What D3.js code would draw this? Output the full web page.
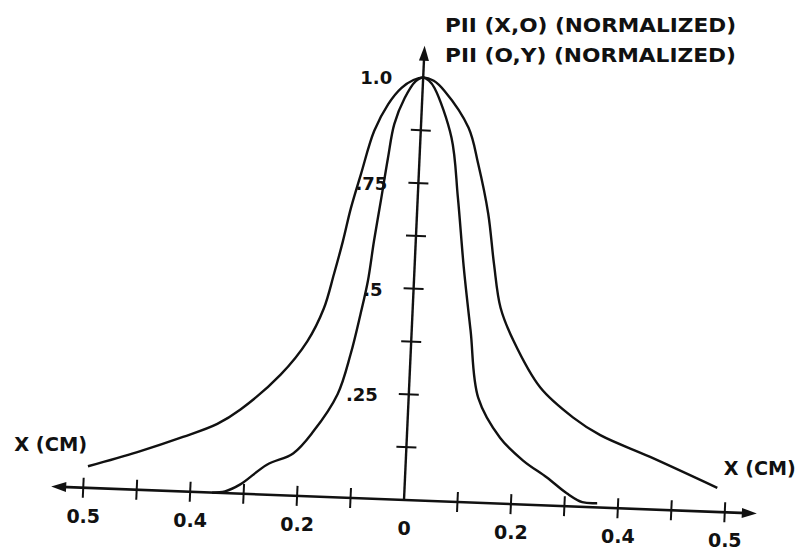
<!DOCTYPE html>
<html>
<head>
<meta charset="utf-8">
<script src="https://d3js.org/d3.v7.min.js"></script>
<style>
body { margin: 0; background: #fff; }
text { font-family: "DejaVu Sans", sans-serif; font-weight: bold; fill: #111; }
</style>
</head>
<body>
<script>
// wide profile (x in cm, y normalized)
var outerX = [-0.593, -0.502, -0.418, -0.355, -0.313, -0.241, -0.194, -0.166, -0.150, -0.136, -0.124, -0.108, -0.087, -0.063, -0.040, -0.018, 0.0, 0.020, 0.041, 0.089, 0.110, 0.133, 0.148, 0.164, 0.191, 0.245, 0.309, 0.361, 0.456, 0.584];
var outerY = [0.051, 0.089, 0.129, 0.163, 0.199, 0.285, 0.366, 0.445, 0.527, 0.606, 0.684, 0.766, 0.869, 0.934, 0.973, 0.993, 1.0, 0.993, 0.970, 0.885, 0.801, 0.684, 0.566, 0.463, 0.386, 0.278, 0.210, 0.171, 0.124, 0.057];

// narrow profile
var innerX = [-0.359, -0.335, -0.307, -0.259, -0.211, -0.175, -0.133, -0.112, -0.097, -0.086, -0.078, -0.068, -0.059, -0.050, -0.033, -0.014, 0.0, 0.011, 0.022, 0.058, 0.075, 0.092, 0.110, 0.130, 0.174, 0.219, 0.265, 0.304, 0.333, 0.361];
var innerY = [0.0, 0.004, 0.022, 0.071, 0.100, 0.154, 0.244, 0.340, 0.435, 0.514, 0.609, 0.711, 0.806, 0.887, 0.949, 0.990, 1.0, 0.993, 0.976, 0.860, 0.719, 0.554, 0.406, 0.248, 0.156, 0.104, 0.066, 0.030, 0.011, 0.010];

var xTicks = [-0.6, -0.5, -0.4, -0.3, -0.2, -0.1, 0.1, 0.2, 0.3, 0.4, 0.5, 0.6];
var xLabelVals = [-0.6, -0.4, -0.2, 0, 0.2, 0.4, 0.6];
var xLabels = ["0.5", "0.4", "0.2", "0", "0.2", "0.4", "0.5"];

var yTicks = [0.125, 0.25, 0.375, 0.5, 0.625, 0.75, 0.875];
var yLabelVals = [1.0, 0.75, 0.5, 0.25];
var yLabels = ["1.0", ".75", ".5", ".25"];

var titleLines = ["PII (X,O) (NORMALIZED)", "PII (O,Y) (NORMALIZED)"];
var axisName = "X (CM)";

var width = 799,
    height = 552;

var ox = 404, oy = 500;
// the drawing sits a little crooked: x axis tilts 2.2 deg, y axis 2.6 deg
var ax = 2.2 * Math.PI / 180,
    ay = 2.6 * Math.PI / 180;
var m = [Math.cos(ax), Math.sin(ax), -Math.sin(ay), Math.cos(ay), ox, oy];

function toScreen(u, v) {
	return [m[0] * u + m[2] * v + m[4], m[1] * u + m[3] * v + m[5]];
}

var x = d3.scaleLinear().domain([-0.6, 0.6]).range([-321, 321]);
var y = d3.scaleLinear().domain([0, 1]).range([0, -423]);

var xEnd = 0.66, yEnd = 1.075;

var svg = d3.select("body").append("svg")
    .attr("width", width)
    .attr("height", height);

svg.append("rect")
    .attr("width", width)
    .attr("height", height)
    .attr("fill", "#fff");

var g = svg.append("g")
    .attr("transform", "matrix(" + m.join(",") + ")");

// axes
g.append("line")
    .attr("x1", x(-xEnd) + 10).attr("y1", 0)
    .attr("x2", x(xEnd) - 10).attr("y2", 0)
    .attr("stroke", "#111")
    .attr("stroke-width", 2.6);

g.append("line")
    .attr("x1", 0).attr("y1", y(0))
    .attr("x2", 0).attr("y2", y(yEnd) + 10)
    .attr("stroke", "#111")
    .attr("stroke-width", 2.4);

// arrow heads
var arrows = [
	[[x(xEnd), 0], [x(xEnd) - 15, -5], [x(xEnd) - 15, 5]],
	[[x(-xEnd), 0], [x(-xEnd) + 15, -5], [x(-xEnd) + 15, 5]],
	[[0, y(yEnd)], [-5, y(yEnd) + 15], [5, y(yEnd) + 15]]
];
g.selectAll("path.arrow")
    .data(arrows).enter()
    .append("path")
    .attr("class", "arrow")
    .attr("d", function(d){ return "M" + d.join("L") + "Z"; })
    .attr("fill", "#111");

// ticks
g.selectAll("line.xtick")
    .data(xTicks).enter()
    .append("line")
    .attr("class", "xtick")
    .attr("x1", function(d){ return x(d); })
    .attr("x2", function(d){ return x(d); })
    .attr("y1", -10)
    .attr("y2", 10)
    .attr("stroke", "#111")
    .attr("stroke-width", 2);

g.selectAll("line.ytick")
    .data(yTicks).enter()
    .append("line")
    .attr("class", "ytick")
    .attr("x1", -10)
    .attr("x2", 10)
    .attr("y1", function(d){ return y(d); })
    .attr("y2", function(d){ return y(d); })
    .attr("stroke", "#111")
    .attr("stroke-width", 2);

// profiles
var line = d3.line()
    .x(function(d){ return x(d[0]); })
    .y(function(d){ return y(d[1]); })
    .curve(d3.curveCatmullRom.alpha(0.5));

var curves = [d3.zip(outerX, outerY), d3.zip(innerX, innerY)];

g.selectAll("path.profile")
    .data(curves).enter()
    .append("path")
    .attr("class", "profile")
    .attr("d", line)
    .attr("fill", "none")
    .attr("stroke", "#111")
    .attr("stroke-width", 2.4)
    .attr("stroke-linejoin", "round");

// labels kept upright, placed from the skewed frame
svg.selectAll("text.xlabel")
    .data(xLabelVals).enter()
    .append("text")
    .attr("class", "xlabel")
    .attr("x", function(d){ return toScreen(x(d), 0)[0]; })
    .attr("y", function(d){ return toScreen(x(d), 0)[1] + 35; })
    .attr("text-anchor", "middle")
    .attr("font-size", 19)
    .text(function(d, i){ return xLabels[i]; });

svg.selectAll("text.ylabel")
    .data(yLabelVals).enter()
    .append("text")
    .attr("class", "ylabel")
    .attr("x", function(d){ return toScreen(0, y(d))[0] - 31; })
    .attr("y", function(d){ return toScreen(0, y(d))[1] + 7; })
    .attr("text-anchor", "end")
    .attr("font-size", 18)
    .text(function(d, i){ return yLabels[i]; });

svg.selectAll("text.title")
    .data(titleLines).enter()
    .append("text")
    .attr("class", "title")
    .attr("x", 445)
    .attr("y", function(d, i){ return 32 + i * 30; })
    .attr("font-size", 19)
    .attr("textLength", 291)
    .attr("lengthAdjust", "spacingAndGlyphs")
    .text(function(d){ return d; });

var nameLeft = toScreen(x(-xEnd), 0),
    nameRight = toScreen(x(xEnd), 0);

svg.append("text")
    .attr("x", nameLeft[0] - 37)
    .attr("y", nameLeft[1] - 35)
    .attr("font-size", 19)
    .attr("textLength", 73)
    .attr("lengthAdjust", "spacingAndGlyphs")
    .text(axisName);

svg.append("text")
    .attr("x", nameRight[0] - 33)
    .attr("y", nameRight[1] - 39)
    .attr("font-size", 19)
    .attr("textLength", 72)
    .attr("lengthAdjust", "spacingAndGlyphs")
    .text(axisName);
</script>
</body>
</html>
